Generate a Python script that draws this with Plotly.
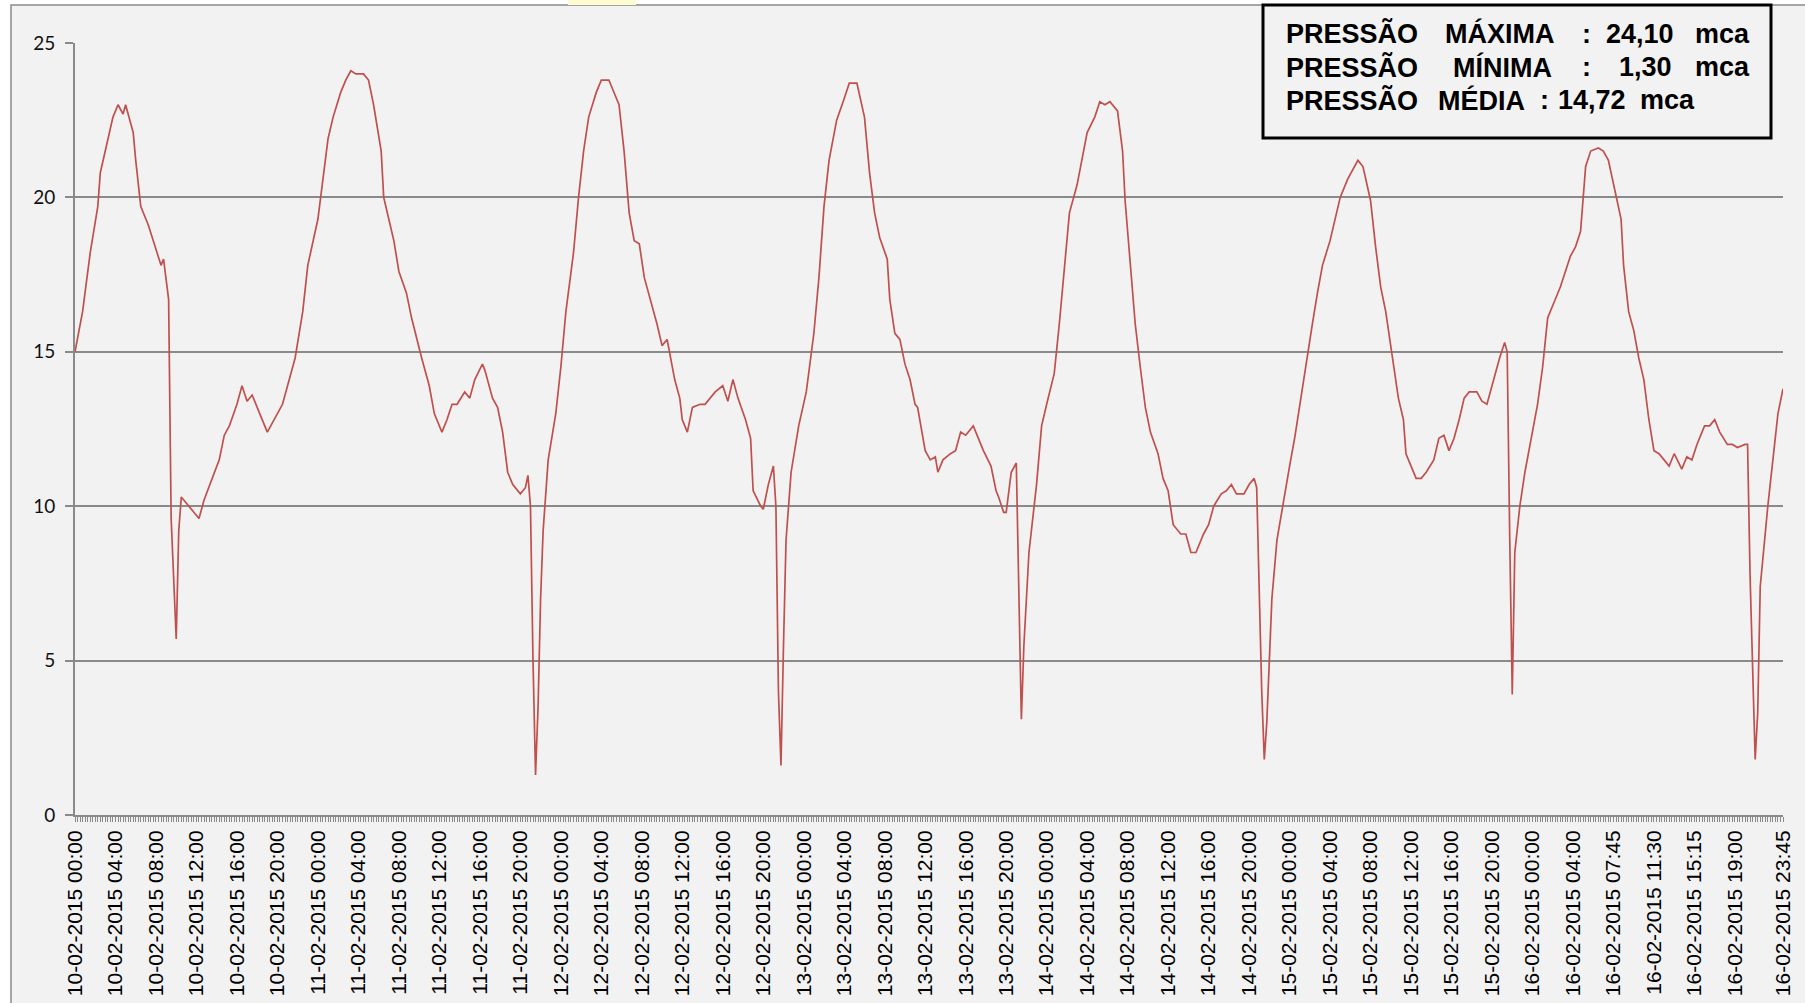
import plotly.graph_objects as go

# ---- data (sample index = 15-min reading number, value = pressure in mca) ----
sample_idx = [0, 3, 6, 9, 10, 13, 15, 17, 19, 20, 23, 24, 26, 29, 31, 34, 35, 37, 38, 40, 41, 42, 45, 49, 51, 55, 57, 59, 61, 64, 66, 68, 70, 73, 76, 78, 82, 84, 87, 90, 92, 96, 98, 100, 102, 105, 107, 109, 111, 114, 116, 118, 121, 122, 124, 126, 128, 131, 133, 135, 137, 140, 142, 145, 147, 149, 151, 154, 156, 158, 161, 162, 165, 167, 169, 171, 173, 176, 178, 179, 180, 181, 182, 183, 184, 185, 187, 190, 192, 194, 197, 199, 201, 203, 206, 208, 211, 212, 215, 217, 219, 221, 223, 225, 228, 230, 232, 234, 237, 239, 240, 242, 244, 247, 249, 251, 253, 256, 258, 260, 262, 265, 267, 268, 271, 272, 274, 276, 277, 278, 279, 280, 281, 283, 286, 289, 292, 294, 296, 298, 301, 304, 306, 309, 311, 312, 314, 316, 318, 321, 322, 324, 326, 328, 330, 332, 333, 336, 338, 340, 341, 343, 346, 348, 350, 352, 355, 357, 359, 362, 364, 365, 367, 368, 370, 372, 373, 374, 375, 377, 380, 382, 384, 387, 389, 391, 393, 396, 398, 400, 403, 405, 407, 409, 412, 414, 415, 417, 419, 421, 423, 425, 428, 430, 432, 434, 437, 439, 441, 443, 446, 448, 450, 453, 455, 457, 459, 462, 464, 466, 467, 469, 470, 471, 473, 475, 478, 480, 482, 484, 487, 489, 491, 493, 496, 498, 500, 503, 505, 507, 509, 512, 514, 516, 518, 520, 522, 523, 525, 526, 528, 530, 532, 534, 537, 539, 541, 543, 545, 547, 549, 551, 554, 556, 558, 560, 563, 565, 566, 567, 568, 569, 571, 573, 575, 578, 580, 582, 584, 587, 589, 591, 593, 595, 597, 599, 602, 604, 606, 608, 611, 612, 614, 616, 618, 620, 622, 624, 626, 628, 630, 632, 635, 637, 639, 641, 644, 646, 648, 650, 653, 655, 657, 660, 661, 662, 664, 665, 666, 669, 671, 673, 675]
pressure = [15.0, 16.3, 18.2, 19.7, 20.8, 21.9, 22.6, 23.0, 22.7, 23.0, 22.1, 21.2, 19.7, 19.1, 18.6, 17.8, 18.0, 16.7, 9.6, 5.7, 9.2, 10.3, 10.0, 9.6, 10.2, 11.1, 11.5, 12.3, 12.6, 13.3, 13.9, 13.4, 13.6, 13.0, 12.4, 12.7, 13.3, 13.9, 14.8, 16.3, 17.8, 19.3, 20.6, 21.9, 22.6, 23.4, 23.8, 24.1, 24.0, 24.0, 23.8, 23.0, 21.5, 20.0, 19.3, 18.6, 17.6, 16.9, 16.1, 15.4, 14.8, 13.9, 13.0, 12.4, 12.8, 13.3, 13.3, 13.7, 13.5, 14.1, 14.6, 14.4, 13.5, 13.2, 12.4, 11.1, 10.7, 10.4, 10.6, 11.0, 10.0, 5.0, 1.3, 3.5, 7.0, 9.2, 11.5, 13.0, 14.5, 16.3, 18.2, 20.0, 21.5, 22.6, 23.4, 23.8, 23.8, 23.6, 23.0, 21.5, 19.5, 18.6, 18.5, 17.4, 16.5, 15.9, 15.2, 15.4, 14.1, 13.5, 12.8, 12.4, 13.2, 13.3, 13.3, 13.5, 13.7, 13.9, 13.4, 14.1, 13.5, 12.8, 12.2, 10.5, 10.0, 9.9, 10.7, 11.3, 10.0, 4.0, 1.6, 5.5, 8.9, 11.1, 12.6, 13.7, 15.6, 17.4, 19.7, 21.2, 22.5, 23.2, 23.7, 23.7, 23.0, 22.6, 20.8, 19.5, 18.7, 18.0, 16.7, 15.6, 15.4, 14.6, 14.1, 13.3, 13.2, 11.8, 11.5, 11.6, 11.1, 11.5, 11.7, 11.8, 12.4, 12.3, 12.6, 12.2, 11.8, 11.3, 10.5, 10.3, 9.8, 9.8, 11.1, 11.4, 7.7, 3.1, 5.5, 8.5, 10.7, 12.6, 13.3, 14.3, 15.9, 17.8, 19.5, 20.4, 21.2, 22.1, 22.6, 23.1, 23.0, 23.1, 22.8, 21.5, 19.9, 17.8, 15.9, 14.5, 13.2, 12.4, 11.7, 10.9, 10.5, 9.4, 9.1, 9.1, 8.5, 8.5, 9.1, 9.4, 10.0, 10.4, 10.5, 10.7, 10.4, 10.4, 10.7, 10.9, 10.6, 4.0, 1.8, 3.0, 7.0, 8.9, 10.4, 11.3, 12.2, 13.3, 14.8, 15.9, 16.9, 17.8, 18.6, 19.3, 20.0, 20.6, 20.9, 21.2, 21.0, 19.9, 18.4, 17.1, 16.3, 15.2, 14.1, 13.5, 12.8, 11.7, 11.3, 10.9, 10.9, 11.1, 11.5, 12.2, 12.3, 11.8, 12.2, 12.8, 13.5, 13.7, 13.7, 13.4, 13.3, 13.9, 14.8, 15.3, 15.0, 9.0, 3.9, 8.5, 10.0, 11.1, 12.0, 13.3, 14.5, 16.1, 16.5, 17.1, 17.6, 18.1, 18.4, 18.9, 21.0, 21.5, 21.6, 21.5, 21.2, 20.4, 19.3, 17.8, 16.3, 15.7, 14.8, 14.1, 12.8, 11.8, 11.7, 11.5, 11.3, 11.7, 11.2, 11.6, 11.5, 12.0, 12.6, 12.6, 12.8, 12.4, 12.0, 12.0, 11.9, 12.0, 12.0, 7.7, 1.8, 3.3, 7.4, 10.0, 11.5, 13.0, 13.8]

tick_labels = [
    "10-02-2015 00:00", "10-02-2015 04:00", "10-02-2015 08:00", "10-02-2015 12:00", "10-02-2015 16:00", "10-02-2015 20:00",
    "11-02-2015 00:00", "11-02-2015 04:00", "11-02-2015 08:00", "11-02-2015 12:00", "11-02-2015 16:00", "11-02-2015 20:00",
    "12-02-2015 00:00", "12-02-2015 04:00", "12-02-2015 08:00", "12-02-2015 12:00", "12-02-2015 16:00", "12-02-2015 20:00",
    "13-02-2015 00:00", "13-02-2015 04:00", "13-02-2015 08:00", "13-02-2015 12:00", "13-02-2015 16:00", "13-02-2015 20:00",
    "14-02-2015 00:00", "14-02-2015 04:00", "14-02-2015 08:00", "14-02-2015 12:00", "14-02-2015 16:00", "14-02-2015 20:00",
    "15-02-2015 00:00", "15-02-2015 04:00", "15-02-2015 08:00", "15-02-2015 12:00", "15-02-2015 16:00", "15-02-2015 20:00",
    "16-02-2015 00:00", "16-02-2015 04:00", "16-02-2015 07:45", "16-02-2015 11:30", "16-02-2015 15:15", "16-02-2015 19:00",
    "16-02-2015 23:45",
]
tick_idx = list(range(0, 657, 16)) + [675]

stats_labels = ["PRESSÃO  MÁXIMA", "PRESSÃO  MÍNIMA", "PRESSÃO MÉDIA"]
stats_values = ["24,10", "1,30", "14,72"]
unit = "mca"

# ---- layout helpers (pixel -> paper) ----
W, H = 1805, 1003
L, R, T, B = 75, 22, 43, 188
PW, PH = W - L - R, H - T - B


def px(x):
    return (x - L) / PW


def py(y):
    return (H - B - y) / PH


GRID = "#8a8a8a"
RED = "#c0504d"

fig = go.Figure()
fig.add_trace(go.Scatter(x=sample_idx, y=pressure, mode="lines",
                         line=dict(color=RED, width=1.7), hoverinfo="skip",
                         showlegend=False))

shapes = [
    # outer chart border
    dict(type="rect", xref="paper", yref="paper", x0=px(11), x1=px(W + 20), y0=py(H + 20), y1=py(5),
         line=dict(color=GRID, width=1.5), fillcolor="#f2f2f2", layer="below"),
    # faint yellow highlight at top edge
    dict(type="rect", xref="paper", yref="paper", x0=px(568), x1=px(636), y0=py(5), y1=py(0),
         line=dict(width=0), fillcolor="#fdfbd2", layer="below"),
    # stats box
    dict(type="rect", xref="paper", yref="paper", x0=px(1263), x1=px(1771), y0=py(138), y1=py(5),
         line=dict(color="black", width=3), fillcolor="#f2f2f2", layer="above"),
]

box_font = dict(family="Liberation Sans, Arial, sans-serif", size=27, color="black", weight="bold")
annotations = []


def word(txt, x, y, anchor="left"):
    annotations.append(dict(text=f"<b>{txt}</b>", xref="paper", yref="paper", x=px(x), y=py(y),
                            xanchor=anchor, yanchor="middle", showarrow=False, font=box_font))


rows_y = [34, 67, 100]
# rows 1 and 2 are spread across the box (justified), row 3 natural
word("PRESSÃO", 1284, rows_y[0])
word("MÁXIMA", 1443, rows_y[0])
word(":", 1580, rows_y[0])
word(stats_values[0], 1604, rows_y[0])
word(unit, 1752, rows_y[0], "right")

word("PRESSÃO", 1284, rows_y[1])
word("MÍNIMA", 1451, rows_y[1])
word(":", 1580, rows_y[1])
word(stats_values[1], 1617, rows_y[1])
word(unit, 1752, rows_y[1], "right")

word("PRESSÃO", 1284, rows_y[2])
word("MÉDIA", 1436, rows_y[2])
word(":", 1538, rows_y[2])
word(stats_values[2], 1556, rows_y[2])
word(unit, 1638, rows_y[2])

fig.update_layout(
    width=W, height=H,
    margin=dict(l=L, r=R, t=T, b=B, pad=0, autoexpand=False),
    paper_bgcolor="white",
    plot_bgcolor="#f2f2f2",
    shapes=shapes,
    annotations=annotations,
    xaxis=dict(
        range=[0, 675], tickmode="array", tickvals=tick_idx, ticktext=tick_labels,
        tickangle=-90, ticks="outside", ticklen=5, tickcolor=GRID, tickwidth=1,
        showline=True, linecolor=GRID, linewidth=2, showgrid=False, zeroline=False,
        automargin=False,
        tickfont=dict(family="Liberation Sans, Arial, sans-serif", size=21, color="black"),
        minor=dict(tickmode="linear", tick0=0, dtick=1, ticks="outside", ticklen=5,
                   tickcolor=GRID, tickwidth=1, showgrid=False),
    ),
    yaxis=dict(
        range=[0, 25], tickmode="linear", tick0=0, dtick=5,
        ticks="outside", ticklen=8, tickcolor=GRID, tickwidth=1.5,
        showline=True, linecolor=GRID, linewidth=2,
        showgrid=True, gridcolor=GRID, gridwidth=1.5, zeroline=False,
        automargin=False,
        tickfont=dict(family="Lato, Carlito, sans-serif", size=19, color="#111111"),
        ticklabelstandoff=6,
    ),
)

fig.write_html("out.html", config={"displayModeBar": False},
               post_script="document.body.style.margin='0';document.body.style.overflow='hidden';")
